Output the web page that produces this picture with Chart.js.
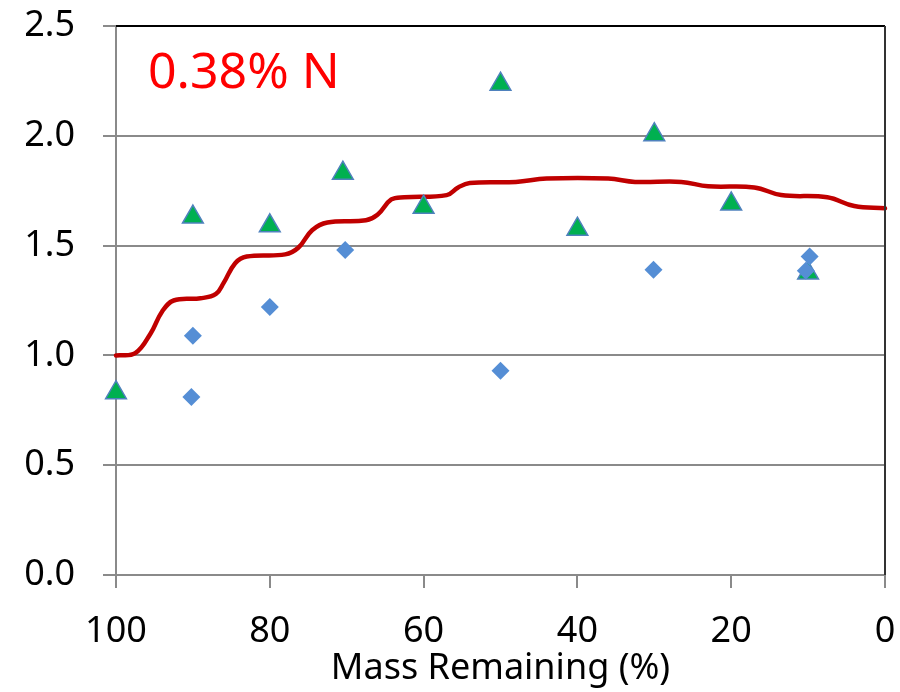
<!DOCTYPE html>
<html>
<head>
<meta charset="utf-8">
<script src="https://cdn.jsdelivr.net/npm/chart.js@4"></script>
<style>
html,body{margin:0;padding:0;background:#fff;}
#wrap{width:900px;height:692px;position:relative;}
</style>
</head>
<body>
<div id="wrap"><canvas id="c" width="900" height="692"></canvas></div>
<script>
// Diamonds (blue)
const diamondX = [90, 90.2, 80, 70.2, 50, 30.1, 9.8, 10.3];
const diamondY = [1.09, 0.81, 1.22, 1.48, 0.93, 1.39, 1.45, 1.385];
// Triangles (green)
const triX = [100, 90, 80, 70.5, 60, 50, 40, 30, 20, 10];
const triY = [0.83, 1.63, 1.59, 1.83, 1.675, 2.235, 1.575, 2.005, 1.69, 1.375];
// Red curve
const curveX = [100, 97.5, 95.5, 94.0, 92.5, 89.0, 87.0, 86.0, 84.5, 83.0, 78.0, 76.3, 74.5, 72.5, 67.5, 66.0, 64.2, 62.5, 57.0, 55.5, 54.0, 48.0, 44.0, 36.0, 32.5, 26.5, 23.0, 17.0, 13.5, 7.5, 4.0, 0];
const curveY = [1.0, 1.01, 1.10, 1.20, 1.25, 1.26, 1.28, 1.33, 1.42, 1.45, 1.46, 1.49, 1.57, 1.605, 1.615, 1.64, 1.71, 1.72, 1.73, 1.765, 1.785, 1.79, 1.805, 1.805, 1.79, 1.79, 1.77, 1.765, 1.73, 1.72, 1.68, 1.67];
const xTicks = [0, 20, 40, 60, 80, 100];
const yTicks = [0.0, 0.5, 1.0, 1.5, 2.0, 2.5];
const annotationText = "0.38% N";
const xTitle = "Mass Remaining (%)";

const FONT = '"Comic Sans MS", "Noto Sans", sans-serif';
const pts = (xs, ys) => xs.map((x, i) => ({x: x, y: ys[i]}));

const framePlugin = {
  id: 'frame',
  afterDraw(chart) {
    const {ctx, chartArea: a} = chart;
    ctx.save();
    ctx.strokeStyle = '#000';
    ctx.lineWidth = 2;
    ctx.beginPath();
    ctx.moveTo(a.left, a.top);
    ctx.lineTo(a.right, a.top);
    ctx.stroke();
    ctx.strokeStyle = '#333';
    ctx.beginPath();
    ctx.moveTo(a.right, a.top);
    ctx.lineTo(a.right, a.bottom);
    ctx.stroke();
    ctx.fillStyle = '#FF0000';
    ctx.font = '50px ' + FONT;
    ctx.textBaseline = 'alphabetic';
    ctx.textAlign = 'left';
    ctx.fillText(annotationText, 148, 88);
    ctx.restore();
  }
};

const noPad = s => { s.paddingTop = 0; s.paddingBottom = 0; s.paddingLeft = 0; s.paddingRight = 0; };

new Chart(document.getElementById('c'), {
  type: 'scatter',
  data: {
    datasets: [
      {
        label: 'diamonds',
        data: pts(diamondX, diamondY),
        pointStyle: 'rectRot',
        pointRadius: 9,
        pointHoverRadius: 9,
        backgroundColor: '#558ED5',
        borderColor: '#558ED5',
        borderWidth: 0,
        showLine: false,
        clip: false
      },
      {
        label: 'triangles',
        data: pts(triX, triY),
        pointStyle: 'triangle',
        pointRadius: 12,
        pointHoverRadius: 12,
        backgroundColor: '#00B050',
        borderColor: '#4F81BD',
        borderWidth: 1.5,
        showLine: false,
        clip: false
      },
      {
        label: 'curve',
        data: pts(curveX, curveY),
        showLine: true,
        borderColor: '#C00000',
        borderWidth: 4.5,
        pointRadius: 0,
        pointHoverRadius: 0,
        fill: false,
        tension: 0.4,
        borderCapStyle: 'round',
        borderJoinStyle: 'round',
        clip: false
      }
    ]
  },
  options: {
    responsive: false,
    animation: false,
    events: [],
    layout: {padding: {top: 26, right: 15, left: 0, bottom: 0}},
    plugins: {legend: {display: false}, tooltip: {enabled: false}},
    scales: {
      x: {
        type: 'linear',
        min: 0, max: 100,
        reverse: true,
        afterFit: s => { s.height = 117; noPad(s); },
        afterBuildTicks: s => { s.ticks = xTicks.map(v => ({value: v})); },
        ticks: {
          font: {family: FONT, size: 36},
          color: '#000',
          padding: 22,
          maxRotation: 0,
          autoSkip: false,
          callback: v => String(v)
        },
        grid: {
          drawOnChartArea: false,
          drawTicks: true,
          tickLength: 13,
          color: '#8a8a8a',
          lineWidth: 2
        },
        border: {color: '#8a8a8a', width: 2},
        title: {
          display: true,
          text: xTitle,
          font: {family: FONT, size: 36},
          color: '#000',
          padding: {top: 0, bottom: 2}
        }
      },
      y: {
        type: 'linear',
        min: 0, max: 2.5,
        afterFit: s => { s.width = 116; noPad(s); },
        afterBuildTicks: s => { s.ticks = yTicks.map(v => ({value: v})); },
        ticks: {
          font: {family: FONT, size: 36},
          color: '#000',
          padding: 28,
          callback: v => v.toFixed(1)
        },
        grid: {
          drawTicks: true,
          tickLength: 13,
          color: '#8a8a8a',
          lineWidth: 2
        },
        border: {color: '#8a8a8a', width: 2}
      }
    }
  },
  plugins: [framePlugin]
});
</script>
</body>
</html>
